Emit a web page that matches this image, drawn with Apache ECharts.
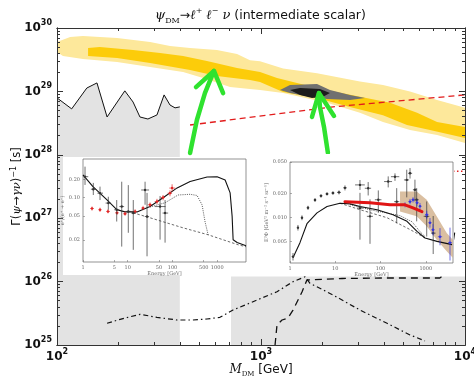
<!DOCTYPE html>
<html>
<head>
<meta charset="utf-8">
<script src="https://cdn.jsdelivr.net/npm/echarts@6/dist/echarts.min.js"></script>
<style>
html,body{margin:0;padding:0;background:#fff;}
#chart{width:474px;height:378px;}
</style>
</head>
<body>
<div id="chart"></div>
<script>
// ---------- main panel: lifetime vs dark-matter mass ----------
const massRange = [100, 10000];
const lifeRange = [1e25, 1e30];
const massTicks = [100, 1000, 10000];
const lifeTicks = [1e25, 1e26, 1e27, 1e28, 1e29, 1e30];

// excluded regions (grey)
const exclLeft = [[100,7.9e28],[118,5.3e28],[140,1.13e29],[157,1.36e29],[176,3.95e28],[215,1.02e29],[236,6.8e28],[255,3.95e28],[279,3.67e28],[309,4.25e28],[335,8.8e28],[358,6.1e28],[379,5.5e28],[400,5.7e28]];
const exclRight = [[713,1.2e26],[10000,1.2e26]];

// preferred regions (yellow / gold bands)
const outerUpper = [[100,6.0e29],[116,7.2e29],[134,7.5e29],[197,6.95e29],[286,6.0e29],[358,5.2e29],[449,4.84e29],[608,4.5e29],[763,3.89e29],[883,3.1e29],[989,3.0e29],[1283,2.3e29],[1882,1.93e29],[3055,1.43e29],[3963,1.26e29],[5375,1.0e29],[7295,7.3e28],[10000,5.5e28]];
const outerLower = [[100,4.18e29],[107,3.62e29],[134,3.24e29],[197,2.91e29],[286,2.43e29],[415,2.02e29],[520,1.63e29],[705,1.17e29],[883,1.09e29],[989,1.05e29],[1283,9.4e28],[2107,6.6e28],[3055,4.6e28],[3963,3.3e28],[5375,2.46e28],[7295,2.05e28],[10000,1.53e28]];
const innerUpper = [[142,4.84e29],[162,5.0e29],[236,4.5e29],[320,4.03e29],[415,3.62e29],[543,3.02e29],[763,2.34e29],[989,2.02e29],[1198,1.63e29],[1882,1.13e29],[3055,8.2e28],[4288,6.6e28],[5821,4.6e28],[7295,3.3e28],[10000,2.75e28]];
const innerLower = [[142,3.62e29],[197,3.36e29],[286,2.81e29],[449,2.18e29],[608,1.75e29],[883,1.51e29],[989,1.41e29],[1283,9.8e28],[1882,7.9e28],[2729,5.7e28],[3963,4.2e28],[5195,2.95e28],[6735,2.46e28],[10000,1.84e28]];
const fitOuter = [[1239,1.05e29],[1387,1.26e29],[1882,1.31e29],[2178,1.05e29],[2729,8.8e28],[3235,7.9e28],[2729,7.3e28],[2107,7.6e28],[1739,8.2e28],[1387,9.4e28]];
const fitInner = [[1387,1.05e29],[1553,1.13e29],[1945,1.09e29],[2178,9.4e28],[2014,8.2e28],[1778,7.9e28],[1553,8.8e28]];

// bounds drawn as lines
const gammaBound = [[449,2.95e28],[2254,5.7e28],[10000,8.8e28]];
const gammaBoundHigh = [[8730,5.5e27],[10000,5.5e27]];
const dashDotBound = [[176,2.2e25],[204,2.54e25],[255,3.05e25],[309,2.73e25],[387,2.48e25],[464,2.48e25],[543,2.57e25],[629,2.73e25],[729,3.56e25],[914,4.82e25],[1198,6.93e25],[1435,9.97e25],[1643,1.19e26],[1739,9.4e25],[2254,6.15e25],[3055,3.56e25],[4148,2.2e25],[5375,1.44e25],[6363,1.16e25]];
const dashBound = [[1172,1e25],[1198,2.07e25],[1268,2.48e25],[1356,2.67e25],[1435,3.56e25],[1588,6.86e25],[1679,1.06e26],[2500,1.12e26],[4000,1.14e26],[7530,1.14e26],[8260,1.42e26],[8630,3.15e26],[8930,6.5e26]];

// pointers
const arrowLeftShaft = [[449,1.07e28],[485,3.54e28],[531,9.4e28],[588,2.1e29]];
const arrowLeftHead = [[480,1.17e29],[588,2.1e29],[652,9.4e28]];
const arrowRightShaft = [[2128,1.07e28],[2036,2.75e28],[1945,5.7e28],[1923,9.4e28]];
const arrowRightHead = [[1778,3.95e28],[1923,9.4e28],[2280,4.1e28]];

// ---------- inset 1: positron fraction ----------
const fracRangeX = [1, 4400];
const fracRangeY = [0.0087, 0.43];
const fracTicksX = [1, 5, 10, 50, 100, 500, 1000];
const fracTicksY = [0.02, 0.05, 0.10, 0.20];
const fracTotal = [[1,0.235],[1.67,0.151],[3.44,0.0916],[5.76,0.0628],[8.7,0.058],[16.1,0.058],[31.5,0.071],[61.6,0.099],[127,0.144],[248,0.183],[594,0.218],[995,0.22],[1503,0.194],[1944,0.119],[2155,0.049],[2268,0.0202],[2787,0.0182],[4400,0.0161]];
const fracLowMass = [[31.5,0.07],[68.3,0.082],[133,0.110],[248,0.113],[355,0.108],[459,0.0756],[536,0.0396],[626,0.0244]];
const fracBackground = [[13.1,0.0561],[31.5,0.0464],[173,0.0317],[626,0.0244],[2936,0.0167],[4400,0.0155]];
// [E, value, Elo, Ehi, low, high]
const fracDataA = [[1.11,0.22,1.015,1.31,0.161,0.322],[1.70,0.137,1.5,1.9,0.110,0.174],[2.40,0.118,2.1,2.8,0.0909,0.151],[3.68,0.081,3.2,4.2,0.063,0.103],[5.67,0.063,5.0,6.5,0.0403,0.0909],[7.34,0.071,6.5,8.3,0.0156,0.182],[10.3,0.059,9,12,0.0263,0.16],[13.3,0.0555,12,15,0.0138,0.0909],[24.4,0.133,20,30,0.0761,0.182],[27,0.0487,24,30,0.0108,0.119],[52.8,0.071,40,70,0.0203,0.106],[68.3,0.0555,60,80,0.0181,0.0909]];
const fracDataB = [[1.59,0.066,1.45,1.75,0.061,0.071],[2.40,0.063,2.2,2.6,0.058,0.068],[3.62,0.059,3.3,4.0,0.055,0.064],[5.76,0.056,5.2,6.3,0.052,0.061],[8.7,0.054,7.9,9.6,0.050,0.059],[14.6,0.059,13,16,0.054,0.064],[22,0.067,20,24,0.062,0.073],[31.5,0.076,28,35,0.069,0.083],[45,0.086,40,50,0.078,0.095],[61.6,0.1,55,68,0.09,0.11],[88,0.118,78,98,0.105,0.131],[98,0.143,85,115,0.125,0.165]];

// ---------- inset 2: electron + positron flux ----------
const fluxRangeX = [1, 4000];
const fluxRangeY = [0.0027, 0.05];
const fluxTicksX = [1, 10, 100, 1000];
const fluxTicksY = [0.005, 0.010, 0.020, 0.050];
const fluxTotal = [[1.165,0.00315],[1.66,0.00486],[2.37,0.0084],[3.95,0.0115],[6.58,0.0138],[12.7,0.0152],[21.2,0.0149],[35.2,0.0138],[83.7,0.0126],[189,0.0109],[385,0.009],[641,0.00672],[962,0.00556],[1774,0.00504],[3800,0.00459]];
const fluxBackground = [[12.7,0.0152],[35.2,0.0126],[139,0.01],[449,0.0071],[962,0.0056]];
const fluxLowMass = [[21.2,0.0146],[58.6,0.0126],[270,0.0106],[497,0.0089],[746,0.00667],[962,0.0058]];
const fluxFit = [[16.4,0.0159],[58.6,0.0154],[162,0.0145],[348,0.0145],[523,0.0133],[826,0.0119]];
const fluxBandUpper = [[270,0.0213],[631,0.0213],[1050,0.0168],[1746,0.0104],[2904,0.00643],[3950,0.0053]];
const fluxBandLower = [[270,0.012],[631,0.0104],[1050,0.0078],[1746,0.0053],[2904,0.00378],[3950,0.00315]];
const fluxDataA = [[1.165,0.00325,1.1,1.23,0.0029,0.0036],[1.5,0.0075,1.42,1.58,0.0069,0.0081],[1.84,0.01,1.74,1.95,0.0093,0.0107],[2.5,0.0133,2.35,2.65,0.0125,0.0141],[3.57,0.0167,3.35,3.8,0.0158,0.0176],[4.84,0.0188,4.5,5.2,0.0178,0.0198],[6.58,0.0199,6.1,7.1,0.0189,0.0209],[8.9,0.0204,8.2,9.6,0.0194,0.0214],[12.1,0.0208,11,13.3,0.0196,0.022],[16.4,0.0237,15,18,0.022,0.0254],[35.2,0.0258,27.4,45,0.0223,0.0297],[53.4,0.0234,45,62,0.019,0.028],[35.2,0.0132,30,41,0.0053,0.0205],[58.6,0.0104,50,68,0.0047,0.017],[89.4,0.0168,75,105,0.0115,0.022],[148,0.0284,120,180,0.024,0.033],[209,0.0327,170,260,0.029,0.036],[228,0.0159,200,260,0.0085,0.0235],[380,0.0298,330,430,0.018,0.04],[449,0.0361,410,500,0.031,0.042],[577,0.0224,520,640,0.016,0.03],[630,0.0168,560,700,0.009,0.0235],[1050,0.0104,900,1200,0.0058,0.016],[1460,0.0064,1300,1650,0.0035,0.0105]];
const fluxDataB = [[348,0.0145,320,380,0.0135,0.0156],[449,0.0159,410,490,0.0147,0.0172],[523,0.0168,480,570,0.0155,0.0181],[641,0.0154,590,700,0.0141,0.0168],[746,0.0139,690,810,0.0126,0.0153],[1050,0.0109,960,1150,0.0097,0.0122],[1240,0.00864,1140,1350,0.0075,0.0099],[1446,0.00706,1330,1570,0.006,0.0083],[2065,0.00577,1850,2300,0.0045,0.0074],[3434,0.00486,3100,3800,0.0029,0.0075]];

// ---------- helpers ----------
function minorOf(lo, hi) {
  const out = [];
  for (let d = lo; d < hi; d *= 10) for (let k = 2; k <= 9; k++) out.push(d * k);
  return out;
}
const massMinor = minorOf(100, 10000);
const lifeMinor = minorOf(1e25, 1e30);

function powLabel(v) {
  return '{b|10}{s|' + Math.round(Math.log10(v)) + '}';
}
const powRich = {
  b: {fontFamily: 'DejaVu Sans', fontWeight: 'bold', fontSize: 12, color: '#111', lineHeight: 18},
  s: {fontFamily: 'DejaVu Sans', fontWeight: 'bold', fontSize: 8, color: '#111', lineHeight: 10, verticalAlign: 'top'}
};

function polygon(pts, fill, z, axis) {
  return {
    type: 'custom', xAxisIndex: axis, yAxisIndex: axis, z: z, silent: true, clip: true,
    data: pts, encode: {x: 0, y: 1},
    renderItem: function (params, api) {
      if (params.dataIndex !== 0) return null;
      return {type: 'polygon', shape: {points: pts.map(function (p) { return api.coord(p); })}, style: {fill: fill}};
    }
  };
}
function band(upper, lower, fill, z, axis) {
  return polygon(upper.concat(lower.slice().reverse()), fill, z, axis);
}
function curve(pts, color, width, type, z, axis, extra) {
  return {
    type: 'line', xAxisIndex: axis, yAxisIndex: axis, data: pts, symbol: 'none', z: z, silent: true,
    lineStyle: Object.assign({color: color, width: width, type: type}, extra || {})
  };
}
function errorBars(rows, color, z, axis) {
  return {
    type: 'custom', xAxisIndex: axis, yAxisIndex: axis, z: z, silent: true, clip: true,
    data: rows, encode: {x: 0, y: 1},
    renderItem: function (params, api) {
      const x = api.value(0), y = api.value(1);
      const c = api.coord([x, y]);
      const l = api.coord([api.value(2), y]), r = api.coord([api.value(3), y]);
      const lo = api.coord([x, api.value(4)]), hi = api.coord([x, api.value(5)]);
      const st = {stroke: color, lineWidth: 0.7};
      return {type: 'group', children: [
        {type: 'line', shape: {x1: l[0], y1: c[1], x2: r[0], y2: c[1]}, style: st},
        {type: 'line', shape: {x1: c[0], y1: lo[1], x2: c[0], y2: hi[1]}, style: st},
        {type: 'circle', shape: {cx: c[0], cy: c[1], r: 1.2}, style: {fill: color}}
      ]};
    }
  };
}

const insetText = {fontFamily: 'DejaVu Serif', fontSize: 5, color: '#666'};

function mainAxis(dim, pos, range, showLabel, ticks, tickLen, grid) {
  const a = {
    type: 'log', logBase: 10, gridIndex: grid, min: range[0], max: range[1], position: pos, z: 10,
    nameMoveOverlap: false,
    axisLine: {show: true, lineStyle: {color: '#333', width: 1}},
    axisTick: {show: true, inside: true, length: tickLen, lineStyle: {color: '#333', width: 1}},
    axisLabel: {show: showLabel, formatter: powLabel, rich: powRich, margin: dim === 'x' ? 3 : 5},
    splitLine: {show: false}, minorTick: {show: false}
  };
  if (ticks) a.axisTick.customValues = ticks;
  return a;
}

const xAxes = [
  Object.assign(mainAxis('x', 'bottom', massRange, true, null, 6, 0), {
    name: '{i|M}{d|DM}{n| [GeV]}', nameLocation: 'middle', nameGap: 17,
    nameTextStyle: {rich: {
      i: {fontFamily: 'DejaVu Serif', fontStyle: 'italic', fontSize: 12, color: '#111', lineHeight: 16},
      d: {fontFamily: 'DejaVu Serif', fontSize: 7, color: '#111', lineHeight: 10, verticalAlign: 'bottom'},
      n: {fontFamily: 'DejaVu Sans', fontSize: 12, color: '#111', lineHeight: 16}
    }}
  }),
  mainAxis('x', 'top', massRange, false, null, 6, 0),
  mainAxis('x', 'bottom', massRange, false, massMinor, 3, 1),
  mainAxis('x', 'top', massRange, false, massMinor, 3, 1),
  {
    type: 'log', gridIndex: 2, min: fracRangeX[0], max: fracRangeX[1], z: 60,
    axisLine: {show: false}, axisTick: {inside: true, length: 2, customValues: fracTicksX, lineStyle: {color: '#777', width: 0.6}},
    axisLabel: Object.assign({customValues: fracTicksX, margin: 3, formatter: function (v) { return String(Math.round(v)); }}, insetText),
    splitLine: {show: false},
    name: 'Energy [GeV]', nameLocation: 'middle', nameGap: 9, nameTextStyle: insetText
  },
  {
    type: 'log', gridIndex: 3, min: fluxRangeX[0], max: fluxRangeX[1], z: 60,
    axisLine: {show: false}, axisTick: {inside: true, length: 2, customValues: fluxTicksX, lineStyle: {color: '#777', width: 0.6}},
    axisLabel: Object.assign({customValues: fluxTicksX, margin: 3, formatter: function (v) { return String(Math.round(v)); }}, insetText),
    splitLine: {show: false},
    name: 'Energy [GeV]', nameLocation: 'middle', nameGap: 9, nameTextStyle: insetText
  }
];

const yAxes = [
  Object.assign(mainAxis('y', 'left', lifeRange, true, null, 6, 0), {
    name: '{n|Γ(}{i|ψ}{n|→}{i|γν}{n|)}{s|−1}{n| [s]}', nameLocation: 'middle', nameGap: 32, nameRotate: 90,
    nameTextStyle: {rich: {
      n: {fontFamily: 'DejaVu Sans', fontSize: 11.5, color: '#111', lineHeight: 15},
      i: {fontFamily: 'DejaVu Serif', fontStyle: 'italic', fontSize: 11.5, color: '#111', lineHeight: 15},
      s: {fontFamily: 'DejaVu Sans', fontSize: 8, color: '#111', lineHeight: 10, verticalAlign: 'top'}
    }}
  }),
  mainAxis('y', 'right', lifeRange, false, null, 6, 0),
  mainAxis('y', 'left', lifeRange, false, lifeMinor, 3, 1),
  mainAxis('y', 'right', lifeRange, false, lifeMinor, 3, 1),
  {
    type: 'log', gridIndex: 2, min: fracRangeY[0], max: fracRangeY[1], z: 60,
    axisLine: {show: false}, axisTick: {inside: true, length: 2, customValues: fracTicksY, lineStyle: {color: '#777', width: 0.6}},
    axisLabel: Object.assign({customValues: fracTicksY, margin: 3, formatter: function (v) { return v.toFixed(2); }}, insetText),
    splitLine: {show: false},
    name: 'e⁺/(e⁺ + e⁻)', nameLocation: 'middle', nameGap: 13, nameRotate: 90, nameTextStyle: insetText
  },
  {
    type: 'log', gridIndex: 3, min: fluxRangeY[0], max: fluxRangeY[1], z: 60,
    axisLine: {show: false}, axisTick: {inside: true, length: 2, customValues: fluxTicksY, lineStyle: {color: '#777', width: 0.6}},
    axisLabel: Object.assign({customValues: fluxTicksY, margin: 3, formatter: function (v) { return v.toFixed(3); }}, insetText),
    splitLine: {show: false},
    name: 'E³Φ [GeV² m⁻² s⁻¹ sr⁻¹]', nameLocation: 'middle', nameGap: 17, nameRotate: 90, nameTextStyle: insetText
  }
];

const series = [
  // main panel
  polygon(exclLeft.concat([[400, 1e25], [100, 1e25]]), '#e3e3e3', 1, 0),
  polygon(exclRight.concat([[10000, 1e25], [713, 1e25]]), '#e3e3e3', 1, 0),
  curve(exclLeft, '#111', 1, 'solid', 3, 0),
  band(outerUpper, outerLower, '#fde89b', 2, 0),
  band(innerUpper, innerLower, '#fccc0a', 2, 0),
  polygon(fitOuter, '#707070', 3, 0),
  polygon(fitInner, '#1c1c1c', 3, 0),
  curve(gammaBound, '#e21c1c', 1.3, [6, 4], 4, 0),
  curve(gammaBoundHigh, '#e21c1c', 1.3, [1.5, 2.5], 4, 0),
  curve(dashDotBound, '#111', 1.2, [5, 3, 1.5, 3], 4, 0),
  curve(dashBound, '#111', 1.3, [7, 5], 4, 0),
  curve(arrowLeftShaft, '#2fe22f', 4.5, 'solid', 8, 0, {cap: 'round', join: 'round'}),
  curve(arrowLeftHead, '#2fe22f', 4.5, 'solid', 8, 0, {cap: 'round', join: 'round'}),
  curve(arrowRightShaft, '#2fe22f', 4.5, 'solid', 8, 0, {cap: 'round', join: 'round'}),
  curve(arrowRightHead, '#2fe22f', 4.5, 'solid', 8, 0, {cap: 'round', join: 'round'}),
  // inset 1
  curve(fracBackground, '#444', 0.8, [2.5, 2], 61, 4),
  curve(fracLowMass, '#444', 0.9, [1, 1.2], 61, 4),
  curve(fracTotal, '#111', 1.1, 'solid', 62, 4),
  errorBars(fracDataB, '#e02626', 63, 4),
  errorBars(fracDataA, '#333', 63, 4),
  // inset 2
  band(fluxBandUpper, fluxBandLower, 'rgba(205,170,130,0.75)', 60, 5),
  curve(fluxBackground, '#444', 0.8, [2.5, 2], 61, 5),
  curve(fluxLowMass, '#444', 0.9, [1, 1.2], 61, 5),
  curve(fluxTotal, '#111', 1.1, 'solid', 62, 5),
  errorBars(fluxDataA, '#333', 63, 5),
  curve(fluxFit, '#e01515', 3, 'solid', 64, 5, {cap: 'round'}),
  errorBars(fluxDataB, '#3535e0', 64, 5)
];

const fixedGrid = {containLabel: false, outerBoundsMode: 'none'};
const chart = echarts.init(document.getElementById('chart'), null, {renderer: 'canvas'});
chart.setOption({
  animation: false,
  backgroundColor: '#fff',
  title: {
    text: '{g|ψ}{d|DM}{n|→}{g|ℓ}{u|+}{n| }{g|ℓ}{u|−}{n| }{g|ν}{n| (intermediate scalar)}',
    left: 150, top: 2,
    textStyle: {fontWeight: 'normal', rich: {
      g: {fontFamily: 'DejaVu Serif', fontStyle: 'italic', fontWeight: 'normal', fontSize: 13, color: '#111', lineHeight: 18},
      d: {fontFamily: 'DejaVu Serif', fontWeight: 'normal', fontSize: 8, color: '#111', lineHeight: 12, verticalAlign: 'bottom'},
      u: {fontFamily: 'DejaVu Serif', fontWeight: 'normal', fontSize: 8, color: '#111', lineHeight: 10, verticalAlign: 'top'},
      n: {fontFamily: 'DejaVu Sans', fontWeight: 'normal', fontSize: 12.5, color: '#111', lineHeight: 18}
    }}
  },
  grid: [
    Object.assign({left: 57, top: 28, width: 408, height: 317}, fixedGrid),
    Object.assign({left: 57, top: 28, width: 408, height: 317}, fixedGrid),
    Object.assign({left: 83, top: 159, width: 163, height: 103, show: true, borderColor: '#666', borderWidth: 0.7, backgroundColor: 'transparent', z: 58}, fixedGrid),
    Object.assign({left: 290, top: 162, width: 163, height: 101, show: true, borderColor: '#666', borderWidth: 0.7, backgroundColor: 'transparent', z: 58}, fixedGrid)
  ],
  graphic: [
    {type: 'rect', shape: {x: 63, y: 157, width: 188, height: 118}, style: {fill: '#fff'}, z: 50, silent: true},
    {type: 'rect', shape: {x: 262, y: 154, width: 192, height: 121}, style: {fill: '#fff'}, z: 50, silent: true}
  ],
  xAxis: xAxes,
  yAxis: yAxes,
  series: series
});
</script>
</body>
</html>
